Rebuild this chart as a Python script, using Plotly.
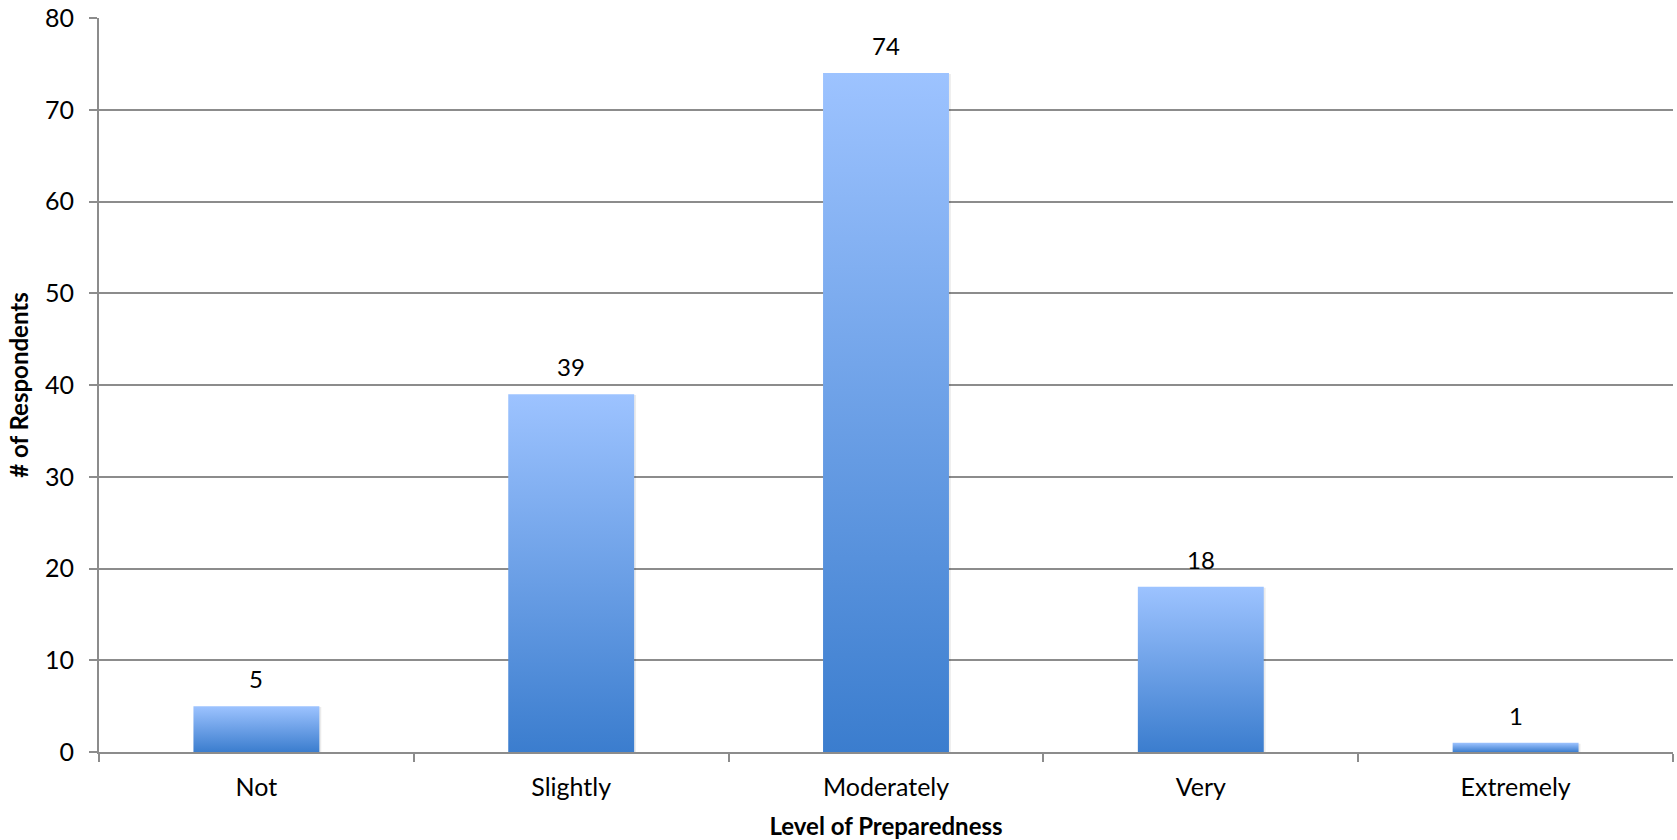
import plotly.graph_objects as go

# Survey results: preparedness level vs. number of respondents
categories = ["Not", "Slightly", "Moderately", "Very", "Extremely"]
respondents = [5, 39, 74, 18, 1]

BAR_HALF = 0.2          # half bar width in category units
TOP_COLOR = "#9DC3FF"
BOTTOM_COLOR = "#3B7DCE"
GRID = "#8C8C8C"
FONT = "Lato"

fig = go.Figure()

for i, (cat, val) in enumerate(zip(categories, respondents)):
    xs = [i - BAR_HALF, i + BAR_HALF, i + BAR_HALF, i - BAR_HALF, i - BAR_HALF]
    ys = [0, 0, val, val, 0]
    # soft drop shadow
    fig.add_trace(go.Scatter(
        x=[x + 0.006 for x in xs], y=[y - 0.2 if y == 0 else y - 0.1 for y in ys],
        fill="toself", mode="lines", line=dict(width=0),
        fillcolor="rgba(0,0,0,0.08)", hoverinfo="skip", showlegend=False,
    ))
    # gradient-filled bar
    fig.add_trace(go.Scatter(
        x=xs, y=ys, fill="toself", mode="lines", line=dict(width=0),
        fillgradient=dict(type="vertical",
                          colorscale=[[0, BOTTOM_COLOR], [1, TOP_COLOR]]),
        name=cat, hovertemplate=f"{cat}: {val}<extra></extra>", showlegend=False,
    ))

# value labels above bars
for i, val in enumerate(respondents):
    fig.add_annotation(
        x=i, y=val, text=str(val), showarrow=False,
        yanchor="bottom", yshift=11,
        font=dict(family=FONT, size=24, color="#000000"),
    )

fig.update_layout(
    width=1677, height=840,
    margin=dict(l=99, r=4, t=18, b=88),
    plot_bgcolor="white", paper_bgcolor="white",
    font=dict(family=FONT, size=24, color="#000000"),
    xaxis=dict(
        range=[-0.5, len(categories) - 0.5],
        tickvals=list(range(len(categories))), ticktext=categories,
        ticks="", showgrid=False, zeroline=False,
        showline=True, linecolor=GRID, linewidth=2,
        minor=dict(ticks="outside", tick0=-0.5, dtick=1, ticklen=8,
                   tickcolor=GRID, tickwidth=2, showgrid=False),
        tickfont=dict(family=FONT, size=25),
        ticklabelstandoff=12,
        automargin=False,
        title=dict(text="<b>Level of Preparedness</b>", standoff=18,
                   font=dict(family=FONT, size=24)),
        fixedrange=True,
    ),
    yaxis=dict(
        range=[0, 80], dtick=10,
        showgrid=True, gridcolor=GRID, gridwidth=1.5,
        zeroline=False,
        showline=True, linecolor=GRID, linewidth=2,
        ticks="outside", ticklen=8, tickcolor=GRID, tickwidth=2,
        tickfont=dict(family=FONT, size=25),
        ticklabelstandoff=10,
        automargin=False,
        title=dict(text="<b># of Respondents</b>", standoff=10,
                   font=dict(family=FONT, size=24)),
        fixedrange=True,
    ),
)

fig.write_html("out.html")
